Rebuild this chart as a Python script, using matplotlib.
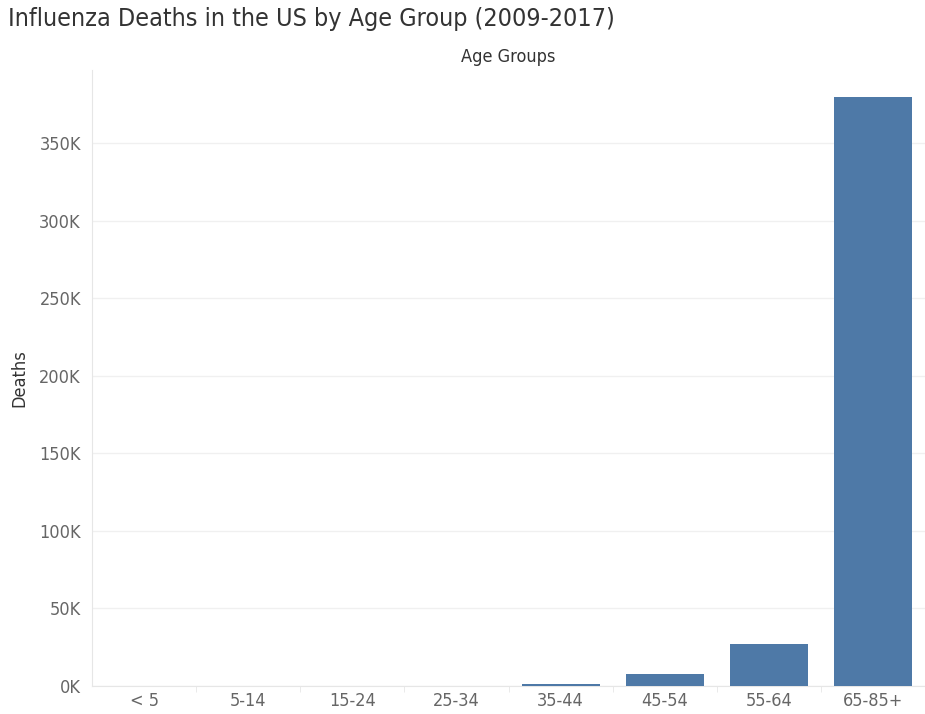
import numpy as np
import matplotlib.pyplot as plt
from matplotlib.ticker import FuncFormatter, FixedLocator

# data
age_groups = ['< 5', '5-14', '15-24', '25-34', '35-44', '45-54', '55-64', '65-85+']
deaths = [150, 100, 150, 250, 1300, 7700, 27000, 379500]

bar_color = '#4e79a7'
grid_color = '#f0f0f0'
text_color = '#666666'

plt.rcParams['font.family'] = ['DejaVu Sans']
plt.rcParams['font.stretch'] = 'condensed'

fig = plt.figure(figsize=(9.25, 7.14), dpi=100)
ax = fig.add_axes([92 / 925, 1 - 686 / 714, 1 - 92 / 925, (686 - 70) / 714])

x = np.arange(len(age_groups))
ax.bar(x, deaths, width=0.75, color=bar_color, zorder=3)

ax.set_xlim(-0.5, len(age_groups) - 0.5)
ax.set_ylim(0, 397000)
ax.set_yticks(np.arange(0, 350001, 50000))
ax.yaxis.set_major_formatter(FuncFormatter(lambda v, p: '%dK' % (v / 1000)))
ax.grid(axis='y', color=grid_color, linewidth=1, zorder=0)

ax.set_xticks(x)
ax.set_xticklabels(age_groups)
ax.xaxis.set_minor_locator(FixedLocator(np.arange(0.5, len(age_groups) - 0.5, 1)))
ax.tick_params(axis='x', which='major', length=0, labelsize=13, labelcolor=text_color, pad=4)
ax.tick_params(axis='x', which='minor', length=4, color='#e6e6e6')
ax.tick_params(axis='y', length=0, labelsize=13, labelcolor=text_color, pad=8)

for side in ['top', 'right']:
    ax.spines[side].set_visible(False)
ax.spines['left'].set_color('#e6e6e6')
ax.spines['bottom'].set_color('#e6e6e6')

ax.set_ylabel('Deaths', fontsize=13, color='#333333', labelpad=8)
fig.text(508 / 925, 1 - 57 / 714, 'Age Groups', ha='center', va='center',
         fontsize=13, color='#333333')
fig.text(8 / 925, 1 - 19 / 714, 'Influenza Deaths in the US by Age Group (2009-2017)',
         ha='left', va='center', fontsize=18, color='#333333')

fig.savefig('out.png', dpi=100)
